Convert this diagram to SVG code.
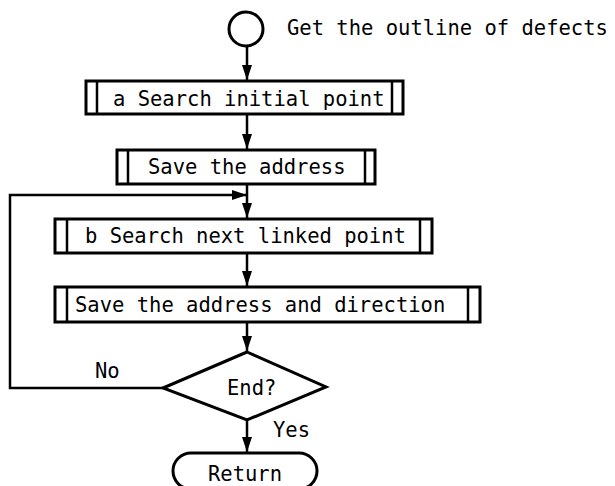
<svg xmlns="http://www.w3.org/2000/svg" width="615" height="486" viewBox="0 0 615 486">
<style>
  .shape { fill: #fff; stroke: #000; stroke-width: 3; }
  .bar { fill: none; stroke: #000; stroke-width: 2.5; }
  .conn { fill: none; stroke: #000; stroke-width: 2.5; }
  text { font-family: "DejaVu Sans Mono", "Liberation Mono", monospace; font-size: 20.5px; fill: #000; }
</style>
<defs>
  <marker id="arrowL" markerUnits="userSpaceOnUse" markerWidth="15" markerHeight="10" viewBox="0 0 15 10" refX="15" refY="5" orient="auto">
    <path d="M0,0 L15,5 L0,10 Z" fill="#000"/>
  </marker>
</defs>
<rect width="615" height="486" fill="#fff"/>

<g id="connectors">
  <line class="conn" x1="247" y1="47" x2="247" y2="80" marker-end="url(#arrowL)"/>
  <line class="conn" x1="247" y1="114" x2="247" y2="149" marker-end="url(#arrowL)"/>
  <line class="conn" x1="247" y1="184" x2="247" y2="218" marker-end="url(#arrowL)"/>
  <polyline class="conn" points="163,388 10,388 10,195 247,195" marker-end="url(#arrowL)"/>
  <line class="conn" x1="247" y1="253" x2="247" y2="286" marker-end="url(#arrowL)"/>
  <line class="conn" x1="247" y1="322" x2="247" y2="351" marker-end="url(#arrowL)"/>
  <line class="conn" x1="247" y1="420" x2="247" y2="452" marker-end="url(#arrowL)"/>
  <text x="95" y="378">No</text>
  <text x="273" y="437">Yes</text>
</g>

<g id="start">
  <circle class="shape" cx="246" cy="29" r="17"/>
  <text x="287" y="35">Get the outline of defects</text>
</g>

<g id="search-initial">
  <rect class="shape" x="86" y="81" width="317" height="33"/>
  <line class="bar" x1="97" y1="81" x2="97" y2="114"/>
  <line class="bar" x1="392" y1="81" x2="392" y2="114"/>
  <text x="113" y="106">a Search initial point</text>
</g>

<g id="save-address">
  <rect class="shape" x="117" y="150" width="258" height="34"/>
  <line class="bar" x1="128" y1="150" x2="128" y2="184"/>
  <line class="bar" x1="365" y1="150" x2="365" y2="184"/>
  <text x="148" y="174">Save the address</text>
</g>

<g id="search-next">
  <rect class="shape" x="55" y="219" width="377" height="34"/>
  <line class="bar" x1="67" y1="219" x2="67" y2="253"/>
  <line class="bar" x1="420" y1="219" x2="420" y2="253"/>
  <text x="85" y="243">b Search next linked point</text>
</g>

<g id="save-direction">
  <rect class="shape" x="55" y="287" width="425" height="35"/>
  <line class="bar" x1="67" y1="287" x2="67" y2="322"/>
  <line class="bar" x1="468" y1="287" x2="468" y2="322"/>
  <text x="75" y="312">Save the address and direction</text>
</g>

<g id="end-decision">
  <polygon class="shape" points="247,352 326,387 247,420 163,388"/>
  <text x="227" y="395">End?</text>
</g>

<g id="return">
  <rect class="shape" x="173" y="453" width="144" height="36" rx="18" ry="18"/>
  <text x="208" y="481">Return</text>
</g>
</svg>
